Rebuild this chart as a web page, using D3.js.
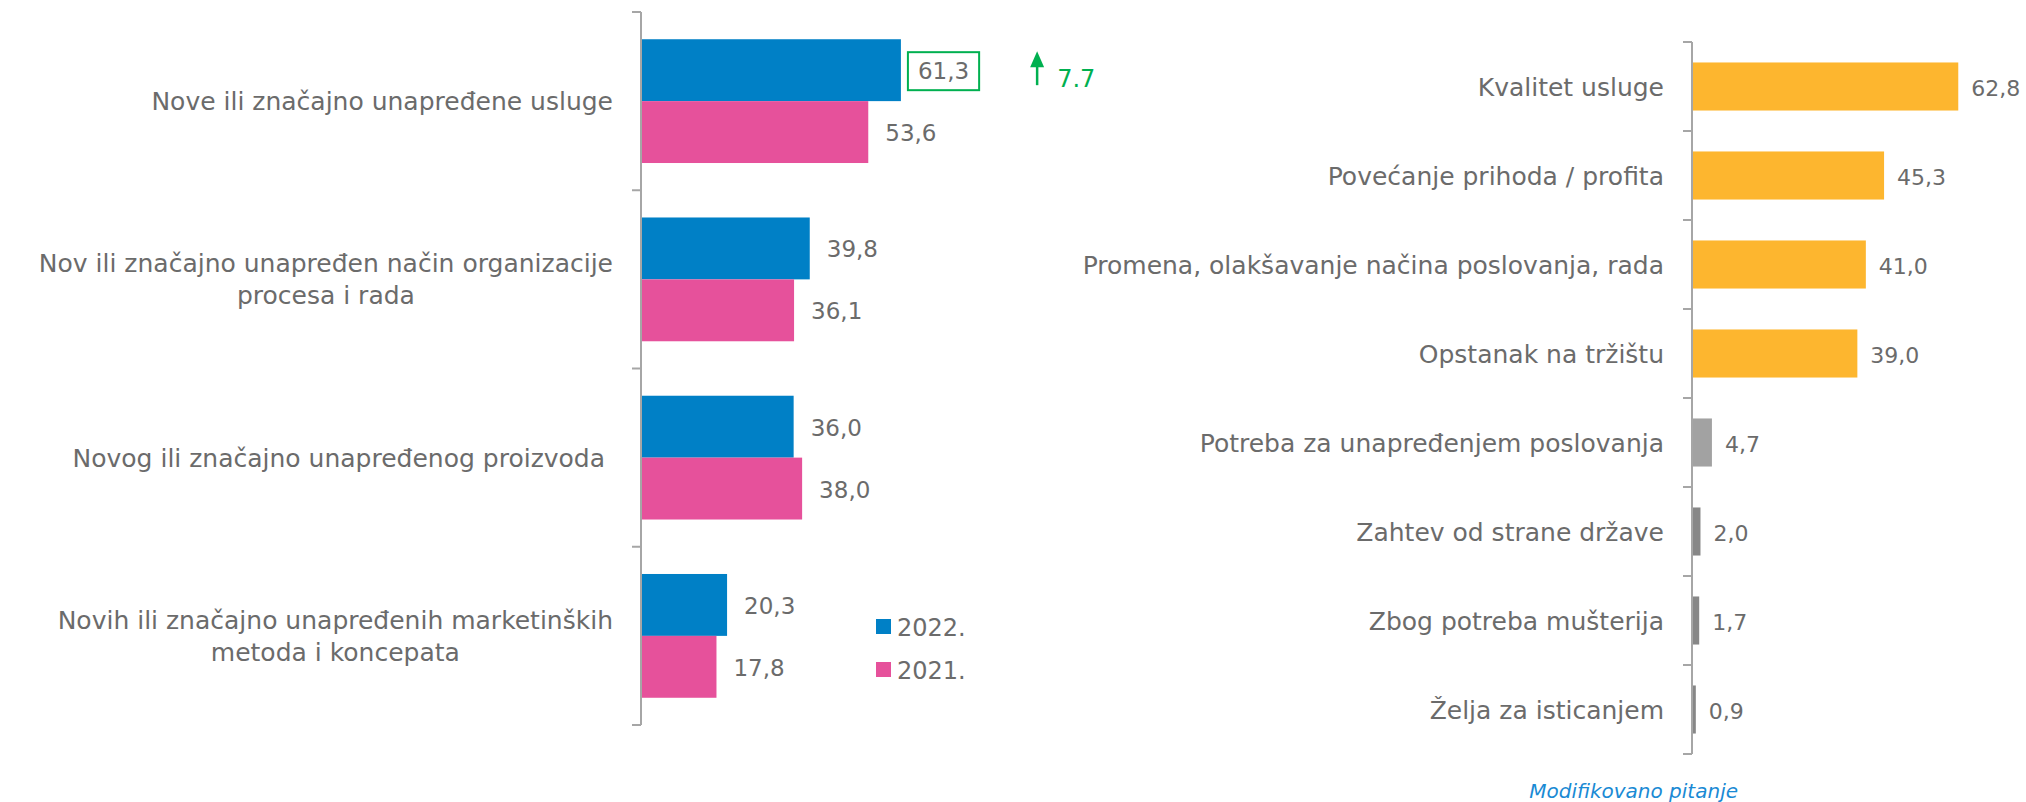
<!DOCTYPE html>
<html>
<head>
<meta charset="utf-8">
<script src="https://cdn.jsdelivr.net/npm/d3@7"></script>
<style>
  body { margin: 0; background: #fff; }
  text { font-family: "DejaVu Sans", sans-serif; fill: #6b6b6b; }
</style>
</head>
<body>
<svg id="chart" width="2026" height="802"></svg>
<script>
// left chart data
var leftCats = [
  "Nove ili značajno unapređene usluge",
  "Nov ili značajno unapređen način organizacije\nprocesa i rada",
  "Novog ili značajno unapređenog proizvoda ",
  "Novih ili značajno unapređenih marketinških\nmetoda i koncepata"
];
var years = ["2022.", "2021."];
var vals2022 = [61.3, 39.8, 36.0, 20.3];
var vals2021 = [53.6, 36.1, 38.0, 17.8];

// right chart data
var rightCats = [
  "Kvalitet usluge",
  "Povećanje prihoda / profita",
  "Promena, olakšavanje načina poslovanja, rada",
  "Opstanak na tržištu",
  "Potreba za unapređenjem poslovanja",
  "Zahtev od strane države",
  "Zbog potreba mušterija",
  "Želja za isticanjem"
];
var rightVals = [62.8, 45.3, 41.0, 39.0, 4.7, 2.0, 1.7, 0.9];

var note = "Modifikovano pitanje";

var svg = d3.select("#chart");
var fmt = function(v) { return d3.format(".1f")(v).replace(".", ","); };
var AXIS_COL = "#a6a6a6";
var yearColor = { "2022.": "#0080c6", "2021.": "#e6519b" };

// ---------- left chart ----------
var L = { x0: 641, top: 12, bottom: 725 };
var xL = d3.scaleLinear().domain([0, 100]).range([L.x0, L.x0 + 424]);
var yL = d3.scaleBand().domain(leftCats).range([L.top, L.bottom]).padding(0);
var yL1 = d3.scaleBand().domain(years).range([0, yL.bandwidth()]).paddingInner(0).paddingOuter(0.44);

var leftRows = leftCats.map(function(c, i) {
  return { cat: c, values: [ { year: "2022.", v: vals2022[i] }, { year: "2021.", v: vals2021[i] } ] };
});

var groups = svg.append("g").selectAll("g")
  .data(leftRows)
  .enter().append("g")
  .attr("transform", function(d) { return "translate(0," + yL(d.cat) + ")"; });

groups.selectAll("rect")
  .data(function(d) { return d.values; })
  .enter().append("rect")
  .attr("x", xL(0))
  .attr("y", function(d) { return yL1(d.year); })
  .attr("width", function(d) { return xL(d.v) - xL(0); })
  .attr("height", yL1.bandwidth())
  .attr("fill", function(d) { return yearColor[d.year]; });

groups.selectAll("text.val")
  .data(function(d) { return d.values; })
  .enter().append("text")
  .attr("class", "val")
  .attr("x", function(d) { return xL(d.v) + 17; })
  .attr("y", function(d) { return yL1(d.year) + yL1.bandwidth() / 2 + 9; })
  .style("font-size", "23px")
  .text(function(d) { return fmt(d.v); });

// box around the first 2022 value + change annotation
var firstVal = groups.filter(function(d, i) { return i === 0; })
  .selectAll("text.val").filter(function(d) { return d.year === "2022."; });
var bb = firstVal.node().getBBox();
var g0 = yL(leftCats[0]);
svg.append("rect")
  .attr("x", bb.x - 10).attr("y", g0 + bb.y - 6)
  .attr("width", bb.width + 20).attr("height", bb.height + 12)
  .attr("fill", "none").attr("stroke", "#00b050").attr("stroke-width", 2);

var diff = (vals2022[0] - vals2021[0]).toFixed(1);
var ax = bb.x + bb.width + 68;
var ay = g0 + yL1("2022.") + yL1.bandwidth() / 2;
svg.append("line")
  .attr("x1", ax).attr("x2", ax).attr("y1", ay - 14).attr("y2", ay + 15)
  .attr("stroke", "#00b050").attr("stroke-width", 2.5);
svg.append("path")
  .attr("d", "M" + (ax - 7) + "," + (ay - 3) + "L" + ax + "," + (ay - 19) + "L" + (ax + 7) + "," + (ay - 3) + "Z")
  .attr("fill", "#00b050");
svg.append("text")
  .attr("x", ax + 20).attr("y", ay + 17)
  .style("font-size", "24px").style("fill", "#00b050")
  .text(diff);

// left axis line + boundary ticks
svg.append("line")
  .attr("x1", L.x0).attr("x2", L.x0).attr("y1", L.top).attr("y2", L.bottom)
  .attr("stroke", AXIS_COL).attr("stroke-width", 2);
svg.append("g").selectAll("line")
  .data(d3.range(leftCats.length + 1))
  .enter().append("line")
  .attr("x1", L.x0 - 9).attr("x2", L.x0)
  .attr("y1", function(i) { return L.top + i * yL.step(); })
  .attr("y2", function(i) { return L.top + i * yL.step(); })
  .attr("stroke", AXIS_COL).attr("stroke-width", 2);

// left category labels: block right-aligned, lines centred
var leftLab = svg.append("g").selectAll("text")
  .data(leftCats)
  .enter().append("text")
  .style("font-size", "25px")
  .style("white-space", "pre")
  .attr("text-anchor", "middle");
leftLab.each(function(d) {
  var t = d3.select(this);
  var lines = d.split("\n");
  var cy = yL(d) + yL.bandwidth() / 2;
  lines.forEach(function(line, k) {
    t.append("tspan")
      .attr("y", cy + (k - (lines.length - 1) / 2) * 32 + 9)
      .text(line);
  });
  var w = d3.max(t.selectAll("tspan").nodes(), function(n) { return n.getComputedTextLength(); });
  t.selectAll("tspan").attr("x", L.x0 - 28 - w / 2);
});

// legend
var legend = svg.append("g").selectAll("g")
  .data(years)
  .enter().append("g")
  .attr("transform", function(d, i) { return "translate(876," + (619 + i * 43) + ")"; });
legend.append("rect").attr("width", 15).attr("height", 15)
  .attr("fill", function(d) { return yearColor[d]; });
legend.append("text").attr("x", 21).attr("y", 17)
  .style("font-size", "24px").text(function(d) { return d; });

// ---------- right chart ----------
var R = { x0: 1692, top: 42, bottom: 754 };
var xR = d3.scaleLinear().domain([0, 100]).range([R.x0, R.x0 + 424]);
var yR = d3.scaleBand().domain(rightCats).range([R.top, R.bottom])
  .paddingInner(0.46).paddingOuter(0.23);
var rightColor = function(i) { return i < 4 ? "#fdb62f" : (i === 4 ? "#a2a2a2" : "#878787"); };

svg.append("g").selectAll("rect")
  .data(rightVals)
  .enter().append("rect")
  .attr("x", xR(0))
  .attr("y", function(d, i) { return yR(rightCats[i]); })
  .attr("width", function(d) { return xR(d) - xR(0); })
  .attr("height", yR.bandwidth())
  .attr("fill", function(d, i) { return rightColor(i); });

svg.append("g").selectAll("text")
  .data(rightVals)
  .enter().append("text")
  .attr("x", function(d) { return xR(d) + 13; })
  .attr("y", function(d, i) { return yR(rightCats[i]) + yR.bandwidth() / 2 + 9; })
  .style("font-size", "22px")
  .text(function(d) { return fmt(d); });

svg.append("g").selectAll("text")
  .data(rightCats)
  .enter().append("text")
  .attr("x", R.x0 - 28)
  .attr("y", function(d) { return yR(d) + yR.bandwidth() / 2 + 9; })
  .attr("text-anchor", "end")
  .style("font-size", "25px")
  .text(function(d) { return d; });

svg.append("line")
  .attr("x1", R.x0).attr("x2", R.x0).attr("y1", R.top).attr("y2", R.bottom)
  .attr("stroke", AXIS_COL).attr("stroke-width", 2);
svg.append("g").selectAll("line")
  .data(d3.range(rightCats.length + 1))
  .enter().append("line")
  .attr("x1", R.x0 - 9).attr("x2", R.x0)
  .attr("y1", function(i) { return R.top + i * yR.step(); })
  .attr("y2", function(i) { return R.top + i * yR.step(); })
  .attr("stroke", AXIS_COL).attr("stroke-width", 2);

// footnote
svg.append("text")
  .attr("x", 1738).attr("y", 798)
  .attr("text-anchor", "end")
  .style("font-size", "20px").style("font-style", "italic").style("fill", "#1a8ad4")
  .text(note);
</script>
</body>
</html>
